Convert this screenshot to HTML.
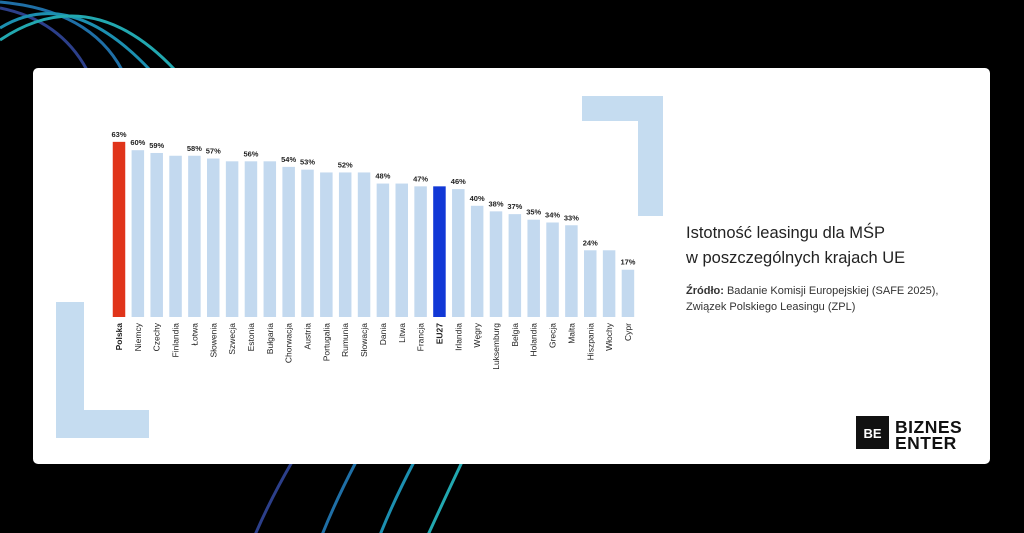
<!DOCTYPE html>
<html><head><meta charset="utf-8"><style>
html,body{margin:0;padding:0;background:#000;width:1024px;height:533px;overflow:hidden}
body{position:relative;font-family:"Liberation Sans","DejaVu Sans",sans-serif}
svg{position:absolute;left:0;top:0}
</style></head><body>
<svg width="1024" height="533">
<g fill="none" stroke-width="3">
<path d="M0,8 Q60,20 87,70" stroke="#2c3f8a"/>
<path d="M0,2 Q90,10 122,70" stroke="#1f6fa6"/>
<path d="M0,28 Q70,-15 150,70" stroke="#1c8fb0"/>
<path d="M0,40 Q90,-20 175,70" stroke="#22a8b0"/>
<path d="M292,462 Q270,500 255,535" stroke="#2c3f8a"/>
<path d="M356,462 Q336,500 322,535" stroke="#1f6fa6"/>
<path d="M414,462 Q394,500 380,535" stroke="#1c8fb0"/>
<path d="M462,462 Q444,500 428,535" stroke="#22a8b0"/>
</g>
<rect x="33" y="68" width="957" height="396" rx="5" fill="#fff"/>
<path d="M582,96 H663 V216 H638 V121 H582 Z" fill="#c5dcf0"/>
<path d="M56,302 H84 V410 H149 V438 H56 Z" fill="#c5dcf0"/>
<g id="chart"></g>
<text x="686" y="238" font-size="16.5" fill="#222">Istotność leasingu dla MŚP</text>
<text x="686" y="263" font-size="16.5" fill="#222">w poszczególnych krajach UE</text>
<text x="686" y="294" font-size="11" fill="#333"><tspan font-weight="bold">Źródło:</tspan> Badanie Komisji Europejskiej (SAFE 2025),</text>
<text x="686" y="310" font-size="11" fill="#333">Związek Polskiego Leasingu (ZPL)</text>
<g>
<rect x="856" y="416" width="33" height="33" fill="#111"/>
<text x="872.5" y="438" font-size="13" font-weight="bold" fill="#fff" text-anchor="middle">BE</text>
<text x="895" y="433" font-size="17.5" font-weight="bold" fill="#111" letter-spacing="0.5">BIZNES</text>
<text x="895" y="449" font-size="17.5" font-weight="bold" fill="#111" letter-spacing="0.5">ENTER</text>
</g>
</svg>
<script>
const categories=["Polska","Niemcy","Czechy","Finlandia","Łotwa","Słowenia","Szwecja","Estonia","Bułgaria","Chorwacja","Austria","Portugalia","Rumunia","Słowacja","Dania","Litwa","Francja","EU27","Irlandia","Węgry","Luksemburg","Belgia","Holandia","Grecja","Malta","Hiszpania","Włochy","Cypr"];
const values=[63,60,59,58,58,57,56,56,56,54,53,52,52,52,48,48,47,47,46,40,38,37,35,34,33,24,24,17];
const labelShown=[1,1,1,0,1,1,0,1,0,1,1,0,1,0,1,0,1,0,1,1,1,1,1,1,1,1,0,1];
const NS="http://www.w3.org/2000/svg";
const g=document.getElementById('chart');
const x0=119,step=18.85,base=317,scale=2.78,bw=12.5;
const xPos=i=>x0+i*step;
const yPos=v=>base-v*scale;
categories.forEach((c,i)=>{
  const v=values[i];
  const r=document.createElementNS(NS,'rect');
  
  
  r.setAttribute('x',xPos(i)-bw/2);r.setAttribute('y',yPos(v));
  r.setAttribute('width',bw);r.setAttribute('height',base-yPos(v));
  r.setAttribute('fill',c==="Polska"?"#e0341a":c==="EU27"?"#1238d6":"#c3d9ef");
  g.appendChild(r);
  if(labelShown[i]){
    const t=document.createElementNS(NS,'text');
    
    
    t.setAttribute('x',xPos(i));t.setAttribute('y',yPos(v)-5);
    t.setAttribute('font-size','7.5');t.setAttribute('font-weight','bold');
    t.setAttribute('fill','#222');t.setAttribute('text-anchor','middle');
    t.textContent=v+'%';g.appendChild(t);
  }
  const l=document.createElementNS(NS,'text');
  
  
  l.setAttribute('transform','translate('+(xPos(i)+3)+','+(base+6)+') rotate(-90)');
  l.setAttribute('font-size','8.5');l.setAttribute('fill','#222');
  l.setAttribute('text-anchor','end');
  if(c==="Polska"||c==="EU27")l.setAttribute('font-weight','bold');
  l.textContent=c;g.appendChild(l);
});
</script>
</body></html>
